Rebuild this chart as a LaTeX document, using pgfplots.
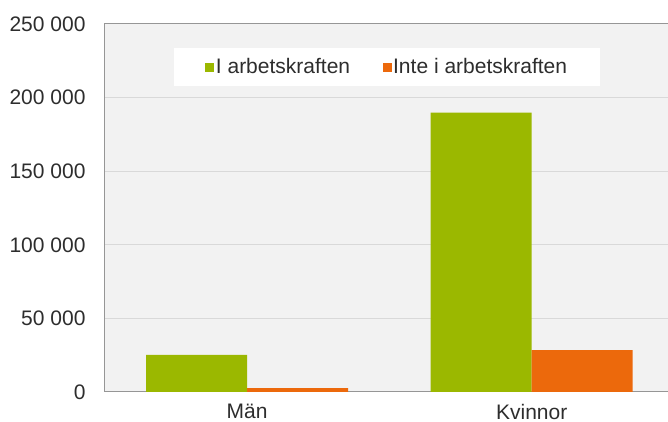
\documentclass[border=0pt]{standalone}
\usepackage{pgfplots}
\pgfplotsset{compat=1.18}
\usepackage{fontspec}
\setmainfont{Liberation Sans}
\definecolor{cgreen}{RGB}{155,184,0}
\definecolor{corange}{RGB}{236,105,12}
\definecolor{bgc}{RGB}{242,242,242}
\definecolor{gridc}{RGB}{217,217,217}
\definecolor{txt}{RGB}{45,45,45}
\definecolor{axc}{RGB}{150,150,150}
\newcommand{\cf}{\fontsize{21}{24}\selectfont}
\begin{document}
\begin{tikzpicture}
\path[use as bounding box] (0,0) rectangle (668pt,422pt);
\begin{axis}[
  at={(104pt,30pt)}, anchor=south west,
  scale only axis, width=566pt, height=368pt,
  ybar=0pt, bar width=101pt,
  xmin=-0.503, xmax=1.486, ymin=0, ymax=250000,
  xtick={0,1}, xticklabels={Män,Kvinnor},
  ytick={0,50000,100000,150000,200000,250000},
  yticklabels={0,50 000,100 000,150 000,200 000,250 000},
  scaled y ticks=false,
  yticklabel style={font=\cf, text=txt, xshift=-15pt},
  xticklabel style={font=\cf, text=txt, yshift=-4pt},
  major tick style={draw=none},
  ymajorgrids, grid style={draw=gridc, line width=1pt},
  axis background/.style={fill=bgc},
  axis line style={draw=axc, line width=1pt},
  legend style={at={(0.5,1)}, anchor=north, yshift=-24pt, draw=none, fill=white,
    legend columns=2, font=\cf, text=txt, inner xsep=31pt, inner ysep=5.5pt,
    nodes={inner xsep=1.5pt, inner ysep=5pt},
    /tikz/every even column/.append style={column sep=31pt}},
  legend image code/.code={\fill[#1] (0pt,-4.5pt) rectangle (9pt,4.5pt);},
]
\addplot[fill=cgreen, draw=none] coordinates {(0,25200) (1,189800)};
\addplot[fill=corange, draw=none] coordinates {(0,2700) (1,28500)};
\legend{I arbetskraften, Inte i arbetskraften}
\end{axis}
\end{tikzpicture}
\end{document}
